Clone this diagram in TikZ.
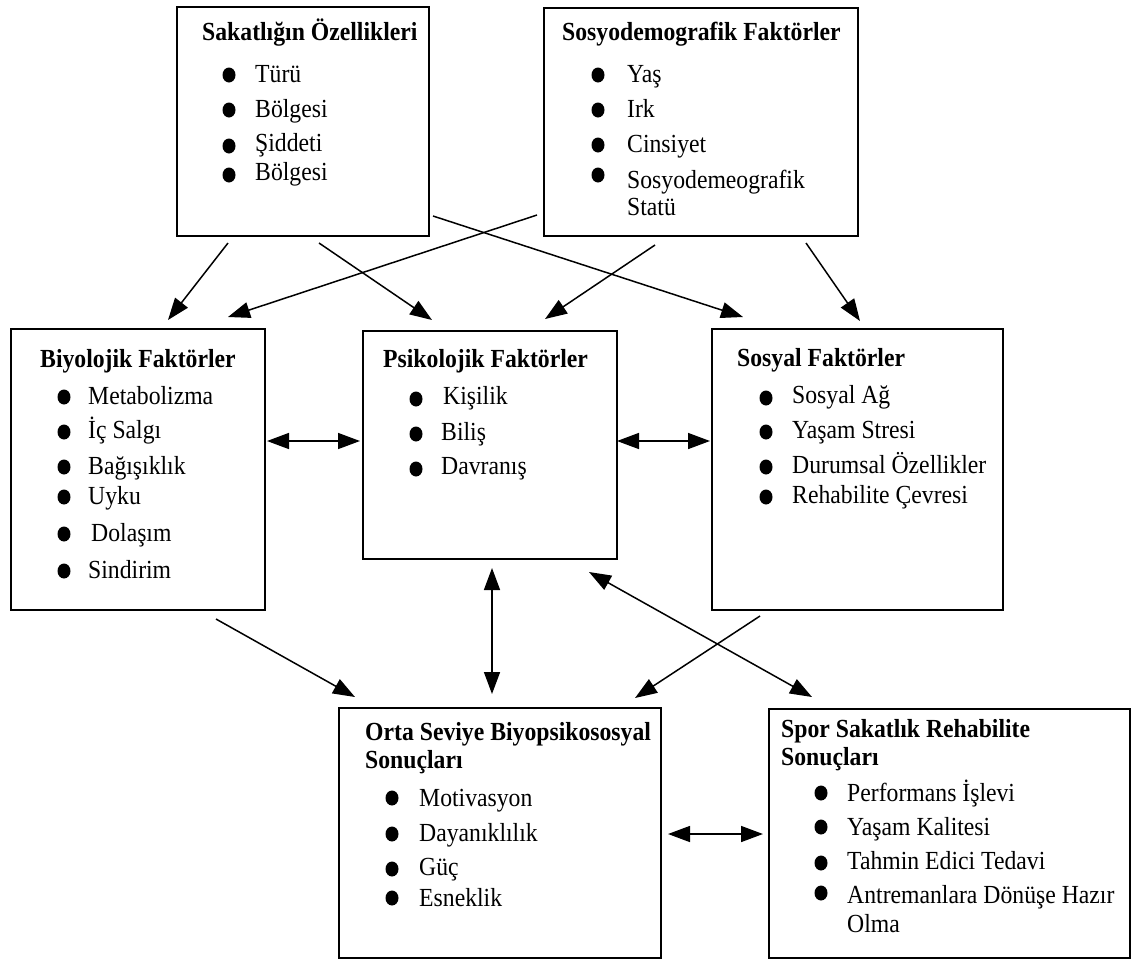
\documentclass[tikz,border=0pt]{standalone}
\usepackage{fontspec}
\setmainfont{Liberation Serif}
\usetikzlibrary{arrows.meta}
\newcommand{\st}[1]{\scalebox{1}[1.1]{#1}}
\tikzset{
  box/.style={draw=black, line width=1.8pt, fill=white, inner sep=0pt, anchor=north west},
  txt/.style={anchor=base west, inner sep=0pt, font=\fontsize{23.7}{28}\selectfont},
  ttl/.style={txt, font=\fontsize{23.7}{28}\selectfont\bfseries},
  con/.style={line width=1.5pt, -{Triangle[length=22pt,width=16pt]}},
  dcon/.style={line width=1.5pt, {Triangle[length=22pt,width=16pt]}-{Triangle[length=22pt,width=16pt]}},
  dot/.style={fill=black}
}
% #1 name, #2 bullet x, #3 bullet y, #4 text x, #5 baseline y, #6 text
\newcommand{\litem}[6]{%
  \fill (#2,#3) ellipse [x radius=6.5pt, y radius=7.5pt];
  \node[txt] (#1) at (#4,#5) {\st{#6}};}
\begin{document}
\begin{tikzpicture}[x=1pt,y=-1pt]
\useasboundingbox (0,0) rectangle (1131,959);
% boxes
\node[box, minimum width=252pt, minimum height=229pt] (b1) at (176,6) {};
\node[box, minimum width=314pt, minimum height=228pt] (b2) at (543,7) {};
\node[box, minimum width=254pt, minimum height=281pt] (b3) at (10,328) {};
\node[box, minimum width=254pt, minimum height=228pt] (b4) at (362,330) {};
\node[box, minimum width=291pt, minimum height=281pt] (b5) at (711,328) {};
\node[box, minimum width=322pt, minimum height=250pt] (b6) at (338,707) {};
\node[box, minimum width=361pt, minimum height=249pt] (b7) at (768,708) {};
% box 1
\node[ttl] (t1) at (202,40) {\st{Sakatlığın Özellikleri}};
\litem{i11}{229}{75}{255}{82}{Türü}
\litem{i12}{229}{110}{255}{117}{Bölgesi}
\litem{i13}{229}{146}{255}{151}{Şiddeti}
\litem{i14}{229}{175}{255}{180}{Bölgesi}
% box 2
\node[ttl] (t2) at (562,40) {\st{Sosyodemografik Faktörler}};
\litem{i21}{598}{75}{627}{82}{Yaş}
\litem{i22}{598}{110}{627}{117}{Irk}
\litem{i23}{598}{145}{627}{152}{Cinsiyet}
\litem{i24}{598}{175}{627}{188}{Sosyodemeografik}
\node[txt] (i25) at (627,215) {\st{Statü}};
% box 3
\node[ttl] (t3) at (40,367) {\st{Biyolojik Faktörler}};
\litem{i31}{64}{397}{88}{404}{Metabolizma}
\litem{i32}{64}{432}{88}{438}{İç Salgı}
\litem{i33}{64}{467}{88}{474}{Bağışıklık}
\litem{i34}{64}{497}{88}{504}{Uyku}
\litem{i35}{64}{534}{91}{541}{Dolaşım}
\litem{i36}{64}{571}{88}{578}{Sindirim}
% box 4
\node[ttl] (t4) at (383,367) {\st{Psikolojik Faktörler}};
\litem{i41}{416}{399}{443}{404}{Kişilik}
\litem{i42}{416}{434}{441}{440}{Biliş}
\litem{i43}{416}{469}{441}{474}{Davranış}
% box 5
\node[ttl] (t5) at (737,366) {\st{Sosyal Faktörler}};
\litem{i51}{766}{398}{792}{403}{Sosyal Ağ}
\litem{i52}{766}{432}{792}{438}{Yaşam Stresi}
\litem{i53}{766}{467}{792}{473}{Durumsal Özellikler}
\litem{i54}{766}{497}{792}{503}{Rehabilite Çevresi}
% box 6
\node[ttl] (t6) at (365,740) {\st{Orta Seviye Biyopsikososyal}};
\node[ttl] (t6b) at (365,768) {\st{Sonuçları}};
\litem{i61}{392}{798}{419}{806}{Motivasyon}
\litem{i62}{392}{834}{419}{841}{Dayanıklılık}
\litem{i63}{392}{869}{419}{875}{Güç}
\litem{i64}{392}{898}{419}{906}{Esneklik}
% box 7
\node[ttl] (t7) at (781,737) {\st{Spor Sakatlık Rehabilite}};
\node[ttl] (t7b) at (781,765) {\st{Sonuçları}};
\litem{i71}{821}{793}{847}{801}{Performans İşlevi}
\litem{i72}{821}{827}{847}{835}{Yaşam Kalitesi}
\litem{i73}{821}{863}{847}{869}{Tahmin Edici Tedavi}
\litem{i74}{821}{893}{847}{903}{Antremanlara Dönüşe Hazır}
\node[txt] (i75) at (847,932) {\st{Olma}};
% connector ends
\coordinate (a1s) at (228,243); \coordinate (a1e) at (168,320);
\coordinate (a2s) at (537,215); \coordinate (a2e) at (228,317);
\coordinate (a3s) at (319,243); \coordinate (a3e) at (432,320);
\coordinate (a4s) at (433,216); \coordinate (a4e) at (743,317);
\coordinate (a5s) at (655,245); \coordinate (a5e) at (545,319);
\coordinate (a6s) at (806,243); \coordinate (a6e) at (860,321);
\coordinate (a7s) at (267,441); \coordinate (a7e) at (360,441);
\coordinate (a8s) at (617,441); \coordinate (a8e) at (710,441);
\coordinate (a9s) at (216,619); \coordinate (a9e) at (355,697);
\coordinate (a10s) at (492,568); \coordinate (a10e) at (492,694);
\coordinate (a11s) at (760,616); \coordinate (a11e) at (635,698);
\coordinate (a12s) at (589,572); \coordinate (a12e) at (812,697);
\coordinate (a13s) at (668,834); \coordinate (a13e) at (763,834);
% connectors
\draw[con] (a1s) -- (a1e);
\draw[con] (a2s) -- (a2e);
\draw[con] (a3s) -- (a3e);
\draw[con] (a4s) -- (a4e);
\draw[con] (a5s) -- (a5e);
\draw[con] (a6s) -- (a6e);
\draw[dcon] (a7s) -- (a7e);
\draw[dcon] (a8s) -- (a8e);
\draw[con] (a9s) -- (a9e);
\draw[dcon] (a10s) -- (a10e);
\draw[con] (a11s) -- (a11e);
\draw[dcon] (a12s) -- (a12e);
\draw[dcon] (a13s) -- (a13e);
\end{tikzpicture}
\end{document}
